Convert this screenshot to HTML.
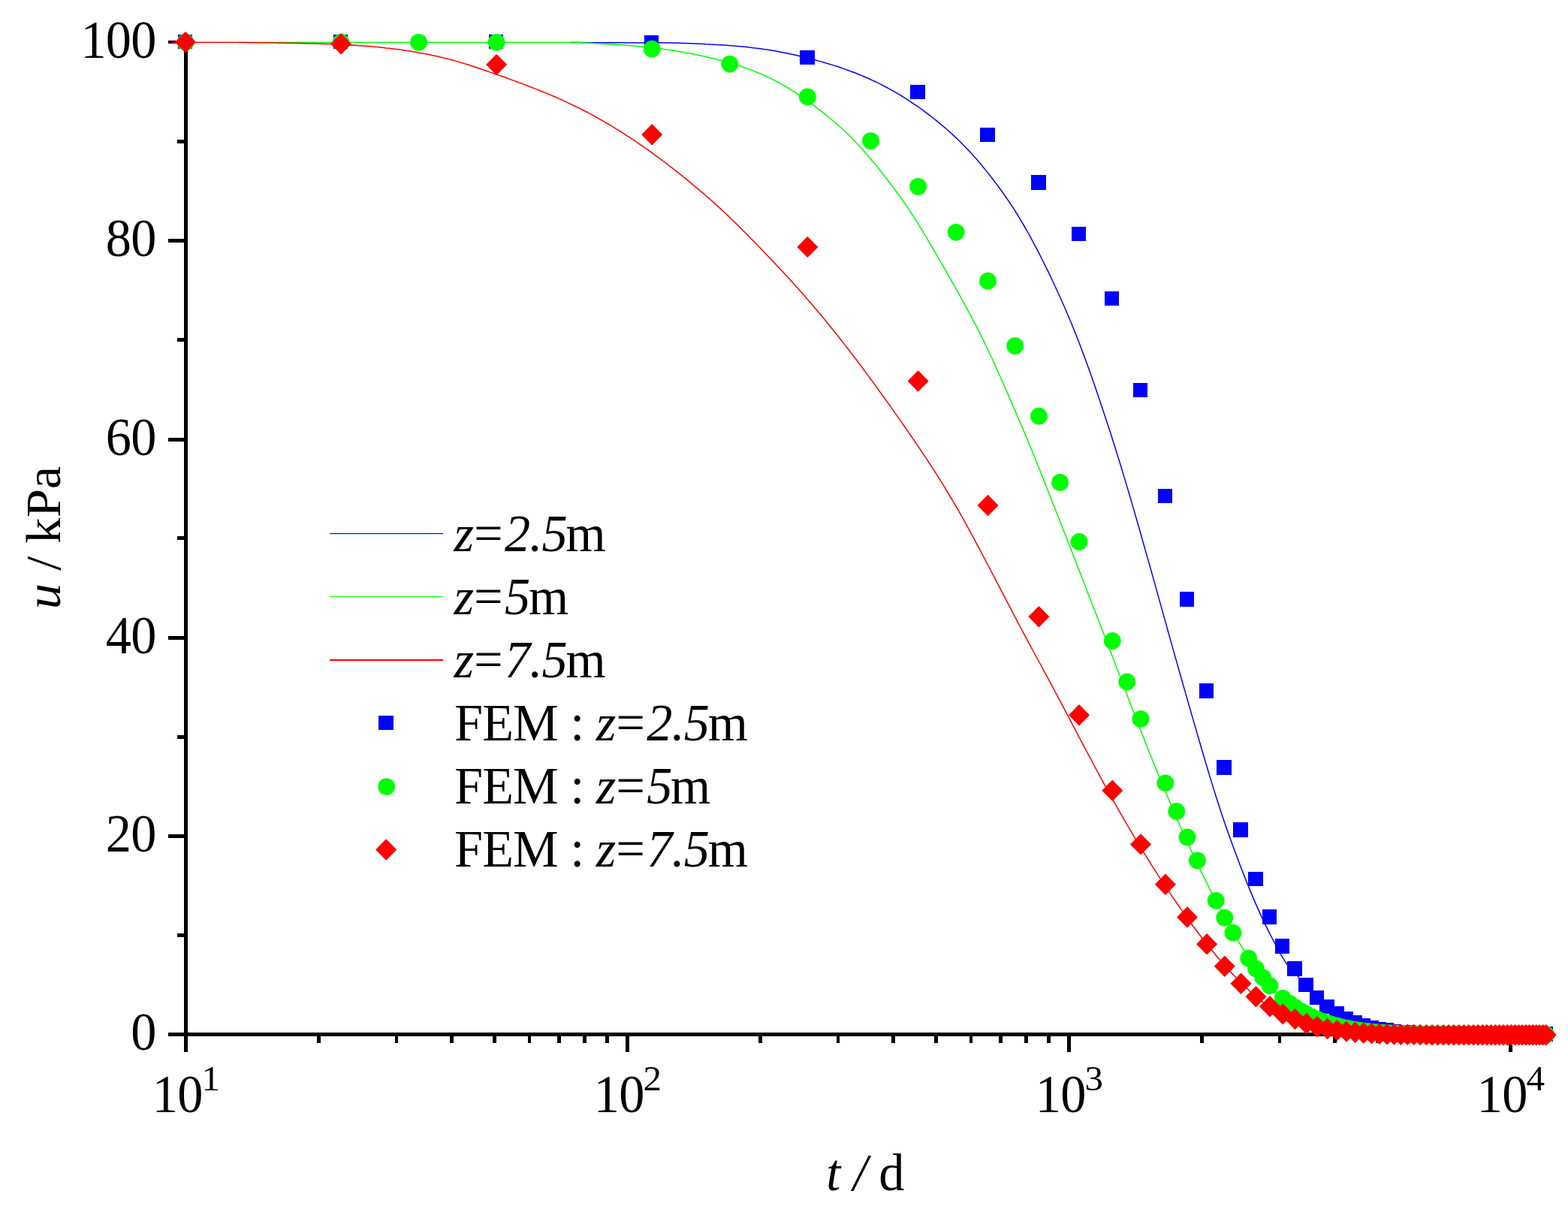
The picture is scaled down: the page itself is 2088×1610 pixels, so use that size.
<!DOCTYPE html>
<html lang="en"><head><meta charset="utf-8"><title>u / kPa versus t / d</title>
<style>
html,body{margin:0;padding:0;background:#fff;}
body{width:2088px;height:1610px;overflow:hidden;}
svg{display:block;}
text{white-space:pre;}
</style></head><body>
<svg width="2088" height="1610" viewBox="0 0 2088 1610" font-family='"Liberation Serif", "Times New Roman", Times, serif' font-size="68.3" letter-spacing="-0.8" fill="#000">
<rect x="0" y="0" width="2088" height="1610" fill="#fff"/>
<g fill="#000" shape-rendering="crispEdges">
<rect x="245" y="54" width="5" height="1347"/>
<rect x="245" y="1375" width="1817" height="5"/>
<rect x="224" y="1375.00" width="22" height="5"/>
<rect x="236" y="1242.88" width="10" height="5"/>
<rect x="224" y="1110.75" width="22" height="5"/>
<rect x="236" y="978.62" width="10" height="5"/>
<rect x="224" y="846.50" width="22" height="5"/>
<rect x="236" y="714.38" width="10" height="5"/>
<rect x="224" y="583.00" width="22" height="5"/>
<rect x="236" y="450.12" width="10" height="5"/>
<rect x="224" y="318.00" width="22" height="5"/>
<rect x="236" y="185.88" width="10" height="5"/>
<rect x="224" y="54" width="22" height="4"/>
<rect x="245.00" y="1379" width="5" height="22"/>
<rect x="422.21" y="1379" width="4.6" height="10"/>
<rect x="525.75" y="1379" width="4.6" height="10"/>
<rect x="599.21" y="1379" width="4.6" height="10"/>
<rect x="656.19" y="1379" width="4.6" height="10"/>
<rect x="702.75" y="1379" width="4.6" height="10"/>
<rect x="742.12" y="1379" width="4.6" height="10"/>
<rect x="776.22" y="1379" width="4.6" height="10"/>
<rect x="806.29" y="1379" width="4.6" height="10"/>
<rect x="833.00" y="1379" width="5" height="22"/>
<rect x="1010.21" y="1379" width="4.6" height="10"/>
<rect x="1113.75" y="1379" width="4.6" height="10"/>
<rect x="1187.21" y="1379" width="4.6" height="10"/>
<rect x="1244.19" y="1379" width="4.6" height="10"/>
<rect x="1290.75" y="1379" width="4.6" height="10"/>
<rect x="1330.12" y="1379" width="4.6" height="10"/>
<rect x="1364.22" y="1379" width="4.6" height="10"/>
<rect x="1394.29" y="1379" width="4.6" height="10"/>
<rect x="1421.00" y="1379" width="5" height="22"/>
<rect x="1598.21" y="1379" width="4.6" height="10"/>
<rect x="1701.75" y="1379" width="4.6" height="10"/>
<rect x="1775.21" y="1379" width="4.6" height="10"/>
<rect x="1832.19" y="1379" width="4.6" height="10"/>
<rect x="1878.75" y="1379" width="4.6" height="10"/>
<rect x="1918.12" y="1379" width="4.6" height="10"/>
<rect x="1952.22" y="1379" width="4.6" height="10"/>
<rect x="1982.29" y="1379" width="4.6" height="10"/>
<rect x="2009.00" y="1379" width="5" height="22"/>
</g>
<text transform="translate(207.50 1398.10) scale(1.0 1.05)" text-anchor="end">0</text>
<text transform="translate(207.50 1133.85) scale(1.0 1.05)" text-anchor="end">20</text>
<text transform="translate(207.50 869.60) scale(1.0 1.05)" text-anchor="end">40</text>
<text transform="translate(207.50 606.05) scale(1.0 1.05)" text-anchor="end">60</text>
<text transform="translate(207.50 341.10) scale(1.0 1.05)" text-anchor="end">80</text>
<text transform="translate(207.50 76.85) scale(1.0 1.05)" text-anchor="end">100</text>
<text transform="translate(202.80 1480.90) scale(1.0 1.04)" text-anchor="start">10</text>
<text transform="translate(268.40 1452.30) scale(1.05 1.0)" text-anchor="start" font-size="46.67">1</text>
<text transform="translate(790.80 1480.90) scale(1.0 1.04)" text-anchor="start">10</text>
<text transform="translate(856.40 1452.30) scale(1.05 1.0)" text-anchor="start" font-size="46.67">2</text>
<text transform="translate(1378.80 1480.90) scale(1.0 1.04)" text-anchor="start">10</text>
<text transform="translate(1444.40 1452.30) scale(1.05 1.0)" text-anchor="start" font-size="46.67">3</text>
<text transform="translate(1966.80 1480.90) scale(1.0 1.04)" text-anchor="start">10</text>
<text transform="translate(2032.40 1452.30) scale(1.05 1.0)" text-anchor="start" font-size="46.67">4</text>
<text transform="translate(1152.00 1585.30) scale(1.0 1.03)" text-anchor="middle"><tspan font-style="italic">t<tspan dx="1.2"> / </tspan></tspan>d</text>
<text transform="translate(80.4 716) rotate(-90) scale(1.005 0.96)" letter-spacing="0" text-anchor="middle"><tspan font-style="italic">u</tspan> / kPa</text>
<path d="M760.0,56.6 L763.0,56.6 L766.0,56.6 L769.0,56.6 L772.0,56.6 L775.0,56.6 L778.0,56.7 L781.0,56.7 L784.0,56.7 L787.0,56.7 L790.0,56.7 L793.0,56.7 L796.0,56.7 L799.0,56.7 L802.0,56.7 L805.0,56.7 L808.0,56.8 L811.0,56.8 L814.0,56.8 L817.0,56.8 L820.0,56.8 L823.0,56.8 L826.0,56.8 L829.0,56.8 L832.0,56.9 L835.0,56.9 L838.0,56.9 L841.0,56.9 L844.0,56.9 L847.0,56.9 L850.0,56.9 L853.0,57.0 L856.0,57.0 L859.0,57.0 L862.0,57.0 L865.0,57.0 L868.0,57.1 L871.0,57.1 L874.0,57.1 L877.0,57.1 L880.0,57.1 L883.0,57.1 L886.0,57.1 L889.0,57.1 L892.0,57.1 L895.0,57.2 L898.0,57.2 L901.0,57.3 L904.0,57.3 L907.0,57.4 L910.0,57.5 L913.0,57.6 L916.0,57.7 L919.0,57.8 L922.0,57.9 L925.0,58.0 L928.0,58.2 L931.0,58.3 L934.0,58.5 L937.0,58.6 L940.0,58.8 L943.0,58.9 L946.0,59.1 L949.0,59.2 L952.0,59.4 L955.0,59.6 L958.0,59.7 L961.0,59.9 L964.0,60.1 L967.0,60.3 L970.0,60.5 L973.0,60.7 L976.0,61.0 L979.0,61.2 L982.0,61.5 L985.0,61.7 L988.0,62.0 L991.0,62.3 L994.0,62.6 L997.0,63.0 L1000.0,63.3 L1003.0,63.7 L1006.0,64.0 L1009.0,64.4 L1012.0,64.8 L1015.0,65.2 L1018.0,65.7 L1021.0,66.1 L1024.0,66.6 L1027.0,67.1 L1030.0,67.6 L1033.0,68.1 L1036.0,68.6 L1039.0,69.2 L1042.0,69.7 L1045.0,70.3 L1048.0,70.9 L1051.0,71.5 L1054.0,72.2 L1057.0,72.8 L1060.0,73.5 L1063.0,74.2 L1066.0,74.9 L1069.0,75.6 L1072.0,76.4 L1075.0,77.1 L1078.0,77.9 L1081.0,78.7 L1084.0,79.5 L1087.0,80.3 L1090.0,81.1 L1093.0,81.9 L1096.0,82.8 L1099.0,83.7 L1102.0,84.6 L1105.0,85.5 L1108.0,86.4 L1111.0,87.4 L1114.0,88.3 L1117.0,89.3 L1120.0,90.3 L1123.0,91.4 L1126.0,92.4 L1129.0,93.5 L1132.0,94.6 L1135.0,95.7 L1138.0,96.8 L1141.0,98.0 L1144.0,99.2 L1147.0,100.4 L1150.0,101.7 L1153.0,103.0 L1156.0,104.3 L1159.0,105.7 L1162.0,107.1 L1165.0,108.5 L1168.0,109.9 L1171.0,111.4 L1174.0,112.9 L1177.0,114.5 L1180.0,116.0 L1183.0,117.6 L1186.0,119.3 L1189.0,120.9 L1192.0,122.7 L1195.0,124.4 L1198.0,126.2 L1201.0,128.0 L1204.0,129.9 L1207.0,131.8 L1210.0,133.8 L1213.0,135.8 L1216.0,137.8 L1219.0,139.8 L1222.0,141.9 L1225.0,144.0 L1228.0,146.2 L1231.0,148.4 L1234.0,150.6 L1237.0,152.9 L1240.0,155.2 L1243.0,157.5 L1246.0,159.9 L1249.0,162.3 L1252.0,164.8 L1255.0,167.3 L1258.0,169.8 L1261.0,172.5 L1264.0,175.1 L1267.0,177.8 L1270.0,180.6 L1273.0,183.4 L1276.0,186.3 L1279.0,189.2 L1282.0,192.2 L1285.0,195.3 L1288.0,198.4 L1291.0,201.6 L1294.0,204.9 L1297.0,208.2 L1300.0,211.6 L1303.0,215.1 L1306.0,218.6 L1309.0,222.2 L1312.0,225.9 L1315.0,229.6 L1318.0,233.4 L1321.0,237.3 L1324.0,241.2 L1327.0,245.1 L1330.0,249.2 L1333.0,253.3 L1336.0,257.5 L1339.0,261.7 L1342.0,266.1 L1345.0,270.5 L1348.0,275.1 L1351.0,279.7 L1354.0,284.5 L1357.0,289.4 L1360.0,294.4 L1363.0,299.5 L1366.0,304.7 L1369.0,310.0 L1372.0,315.4 L1375.0,321.0 L1378.0,326.6 L1381.0,332.3 L1384.0,338.1 L1387.0,344.0 L1390.0,350.0 L1393.0,356.1 L1396.0,362.2 L1399.0,368.5 L1402.0,374.8 L1405.0,381.2 L1408.0,387.7 L1411.0,394.3 L1414.0,401.0 L1417.0,407.8 L1420.0,414.8 L1423.0,421.8 L1426.0,429.0 L1429.0,436.3 L1432.0,443.7 L1435.0,451.3 L1438.0,459.1 L1441.0,467.0 L1444.0,475.0 L1447.0,483.2 L1450.0,491.6 L1453.0,500.1 L1456.0,508.6 L1459.0,517.3 L1462.0,526.1 L1465.0,535.0 L1468.0,544.0 L1471.0,553.0 L1474.0,562.1 L1477.0,571.3 L1480.0,580.6 L1483.0,590.0 L1486.0,599.5 L1489.0,609.1 L1492.0,618.8 L1495.0,628.6 L1498.0,638.6 L1501.0,648.6 L1504.0,658.8 L1507.0,669.1 L1510.0,679.4 L1513.0,689.8 L1516.0,700.3 L1519.0,710.8 L1522.0,721.4 L1525.0,732.0 L1528.0,742.6 L1531.0,753.3 L1534.0,763.9 L1537.0,774.6 L1540.0,785.4 L1543.0,796.1 L1546.0,806.9 L1549.0,817.6 L1552.0,828.4 L1555.0,839.2 L1558.0,849.9 L1561.0,860.6 L1564.0,871.2 L1567.0,881.9 L1570.0,892.5 L1573.0,903.0 L1576.0,913.6 L1579.0,924.1 L1582.0,934.6 L1585.0,945.0 L1588.0,955.4 L1591.0,965.8 L1594.0,976.1 L1597.0,986.5 L1600.0,996.7 L1603.0,1007.0 L1606.0,1017.1 L1609.0,1027.2 L1612.0,1037.1 L1615.0,1046.9 L1618.0,1056.5 L1621.0,1066.0 L1624.0,1075.2 L1627.0,1084.4 L1630.0,1093.3 L1633.0,1102.0 L1636.0,1110.6 L1639.0,1119.0 L1642.0,1127.2 L1645.0,1135.3 L1648.0,1143.3 L1651.0,1151.2 L1654.0,1159.0 L1657.0,1166.6 L1660.0,1174.2 L1663.0,1181.6 L1666.0,1188.9 L1669.0,1196.1 L1672.0,1203.1 L1675.0,1209.9 L1678.0,1216.6 L1681.0,1223.1 L1684.0,1229.4 L1687.0,1235.6 L1690.0,1241.6 L1693.0,1247.5 L1696.0,1253.1 L1699.0,1258.9 L1702.0,1264.5 L1705.0,1270.0 L1708.0,1275.1 L1711.0,1279.9 L1714.0,1284.3 L1717.0,1288.3 L1720.0,1291.7 L1723.0,1294.6 L1726.0,1297.0 L1730.0,1302.4 L1734.0,1307.5 L1738.0,1312.4 L1742.0,1317.0 L1746.0,1321.3 L1750.0,1325.4 L1754.0,1329.2 L1758.0,1332.8 L1762.0,1336.2 L1766.0,1339.4 L1770.0,1342.4 L1774.0,1345.2 L1778.0,1347.8 L1782.0,1350.2 L1786.0,1352.5 L1790.0,1354.6 L1794.0,1356.5 L1798.0,1358.4 L1802.0,1360.1 L1806.0,1361.6 L1810.0,1363.1 L1814.0,1364.4 L1818.0,1365.6 L1822.0,1366.8 L1826.0,1367.8 L1830.0,1368.7 L1834.0,1369.6 L1838.0,1370.4 L1842.0,1371.1 L1846.0,1371.8 L1850.0,1372.4 L1854.0,1372.9 L1858.0,1373.4 L1862.0,1373.9 L1866.0,1374.3 L1870.0,1374.7 L1874.0,1375.0 L1878.0,1375.3 L1882.0,1375.5 L1886.0,1375.8 L1890.0,1376.0 L1894.0,1376.2 L1898.0,1376.3 L1902.0,1376.5 L1906.0,1376.6 L1910.0,1376.7 L1914.0,1376.8 L1918.0,1376.9 L1922.0,1377.0 L1926.0,1377.1 L1930.0,1377.1 L1934.0,1377.2 L1938.0,1377.2 L1942.0,1377.3 L1946.0,1377.3 L1950.0,1377.3 L1954.0,1377.4 L1958.0,1377.4 L1962.0,1377.4 L1966.0,1377.4 L1970.0,1377.4 L1974.0,1377.4 L1978.0,1377.5 L1982.0,1377.5 L1986.0,1377.5 L1990.0,1377.5 L1994.0,1377.5 L1998.0,1377.5 L2002.0,1377.5 L2006.0,1377.5 L2010.0,1377.5 L2014.0,1377.5 L2018.0,1377.5 L2022.0,1377.5 L2026.0,1377.5 L2030.0,1377.5 L2034.0,1377.5 L2038.0,1377.5 L2042.0,1377.5 L2046.0,1377.5 L2050.0,1377.5 L2054.0,1377.5 L2058.0,1377.5 L2059.3,1377.5" fill="none" stroke="#0000ff" stroke-width="1.5" stroke-linejoin="round"/>
<path d="M318.0,56.4 L321.0,56.4 L324.0,56.4 L327.0,56.4 L330.0,56.4 L333.0,56.4 L336.0,56.4 L339.0,56.4 L342.0,56.4 L345.0,56.4 L348.0,56.4 L351.0,56.4 L354.0,56.4 L357.0,56.4 L360.0,56.4 L363.0,56.4 L366.0,56.4 L369.0,56.4 L372.0,56.4 L375.0,56.4 L378.0,56.4 L381.0,56.4 L384.0,56.4 L387.0,56.4 L390.0,56.4 L393.0,56.4 L396.0,56.4 L399.0,56.4 L402.0,56.4 L405.0,56.4 L408.0,56.4 L411.0,56.4 L414.0,56.4 L417.0,56.4 L420.0,56.4 L423.0,56.4 L426.0,56.4 L429.0,56.4 L432.0,56.4 L435.0,56.4 L438.0,56.4 L441.0,56.4 L444.0,56.4 L447.0,56.4 L450.0,56.4 L453.0,56.4 L456.0,56.4 L459.0,56.4 L462.0,56.4 L465.0,56.4 L468.0,56.4 L471.0,56.4 L474.0,56.4 L477.0,56.4 L480.0,56.4 L483.0,56.4 L486.0,56.4 L489.0,56.4 L492.0,56.4 L495.0,56.4 L498.0,56.4 L501.0,56.4 L504.0,56.4 L507.0,56.4 L510.0,56.4 L513.0,56.4 L516.0,56.4 L519.0,56.4 L522.0,56.4 L525.0,56.4 L528.0,56.4 L531.0,56.4 L534.0,56.4 L537.0,56.4 L540.0,56.4 L543.0,56.4 L546.0,56.4 L549.0,56.4 L552.0,56.4 L555.0,56.4 L558.0,56.4 L561.0,56.4 L564.0,56.4 L567.0,56.4 L570.0,56.4 L573.0,56.4 L576.0,56.4 L579.0,56.4 L582.0,56.4 L585.0,56.4 L588.0,56.4 L591.0,56.4 L594.0,56.4 L597.0,56.4 L600.0,56.4 L603.0,56.4 L606.0,56.4 L609.0,56.4 L612.0,56.4 L615.0,56.4 L618.0,56.4 L621.0,56.4 L624.0,56.4 L627.0,56.4 L630.0,56.4 L633.0,56.4 L636.0,56.4 L639.0,56.4 L642.0,56.4 L645.0,56.4 L648.0,56.4 L651.0,56.4 L654.0,56.4 L657.0,56.4 L660.0,56.4 L663.0,56.4 L666.0,56.4 L669.0,56.4 L672.0,56.4 L675.0,56.4 L678.0,56.4 L681.0,56.4 L684.0,56.4 L687.0,56.4 L690.0,56.4 L693.0,56.4 L696.0,56.4 L699.0,56.4 L702.0,56.4 L705.0,56.4 L708.0,56.4 L711.0,56.4 L714.0,56.4 L717.0,56.4 L720.0,56.4 L723.0,56.4 L726.0,56.4 L729.0,56.4 L732.0,56.4 L735.0,56.4 L738.0,56.4 L741.0,56.4 L744.0,56.4 L747.0,56.4 L750.0,56.4 L753.0,56.4 L756.0,56.4 L759.0,56.4 L762.0,56.5 L765.0,56.5 L768.0,56.6 L771.0,56.7 L774.0,56.8 L777.0,56.9 L780.0,57.0 L783.0,57.2 L786.0,57.3 L789.0,57.5 L792.0,57.7 L795.0,57.9 L798.0,58.0 L801.0,58.2 L804.0,58.4 L807.0,58.6 L810.0,58.7 L813.0,58.9 L816.0,59.1 L819.0,59.3 L822.0,59.5 L825.0,59.7 L828.0,59.9 L831.0,60.1 L834.0,60.4 L837.0,60.6 L840.0,60.9 L843.0,61.1 L846.0,61.4 L849.0,61.6 L852.0,61.9 L855.0,62.2 L858.0,62.5 L861.0,62.8 L864.0,63.1 L867.0,63.4 L870.0,63.8 L873.0,64.1 L876.0,64.5 L879.0,64.8 L882.0,65.2 L885.0,65.6 L888.0,66.0 L891.0,66.5 L894.0,66.9 L897.0,67.4 L900.0,67.8 L903.0,68.3 L906.0,68.8 L909.0,69.3 L912.0,69.9 L915.0,70.4 L918.0,71.0 L921.0,71.5 L924.0,72.1 L927.0,72.7 L930.0,73.4 L933.0,74.0 L936.0,74.7 L939.0,75.3 L942.0,76.0 L945.0,76.7 L948.0,77.5 L951.0,78.2 L954.0,78.9 L957.0,79.7 L960.0,80.5 L963.0,81.3 L966.0,82.1 L969.0,82.9 L972.0,83.8 L975.0,84.6 L978.0,85.5 L981.0,86.5 L984.0,87.4 L987.0,88.4 L990.0,89.5 L993.0,90.5 L996.0,91.6 L999.0,92.7 L1002.0,93.9 L1005.0,95.1 L1008.0,96.3 L1011.0,97.5 L1014.0,98.8 L1017.0,100.2 L1020.0,101.5 L1023.0,102.9 L1026.0,104.4 L1029.0,105.9 L1032.0,107.4 L1035.0,109.0 L1038.0,110.6 L1041.0,112.3 L1044.0,114.0 L1047.0,115.7 L1050.0,117.5 L1053.0,119.3 L1056.0,121.2 L1059.0,123.1 L1062.0,125.1 L1065.0,127.1 L1068.0,129.1 L1071.0,131.2 L1074.0,133.3 L1077.0,135.5 L1080.0,137.7 L1083.0,139.9 L1086.0,142.2 L1089.0,144.5 L1092.0,146.8 L1095.0,149.2 L1098.0,151.6 L1101.0,154.0 L1104.0,156.5 L1107.0,159.0 L1110.0,161.5 L1113.0,164.1 L1116.0,166.7 L1119.0,169.3 L1122.0,172.0 L1125.0,174.8 L1128.0,177.6 L1131.0,180.5 L1134.0,183.5 L1137.0,186.5 L1140.0,189.7 L1143.0,192.9 L1146.0,196.1 L1149.0,199.5 L1152.0,202.9 L1155.0,206.4 L1158.0,209.9 L1161.0,213.5 L1164.0,217.1 L1167.0,220.8 L1170.0,224.5 L1173.0,228.3 L1176.0,232.1 L1179.0,235.9 L1182.0,239.8 L1185.0,243.7 L1188.0,247.6 L1191.0,251.6 L1194.0,255.7 L1197.0,259.8 L1200.0,263.9 L1203.0,268.2 L1206.0,272.5 L1209.0,276.9 L1212.0,281.4 L1215.0,286.0 L1218.0,290.7 L1221.0,295.4 L1224.0,300.3 L1227.0,305.2 L1230.0,310.2 L1233.0,315.2 L1236.0,320.3 L1239.0,325.4 L1242.0,330.5 L1245.0,335.7 L1248.0,340.8 L1251.0,346.0 L1254.0,351.2 L1257.0,356.4 L1260.0,361.7 L1263.0,366.9 L1266.0,372.2 L1269.0,377.4 L1272.0,382.7 L1275.0,388.0 L1278.0,393.4 L1281.0,398.8 L1284.0,404.3 L1287.0,409.8 L1290.0,415.3 L1293.0,420.9 L1296.0,426.6 L1299.0,432.3 L1302.0,438.2 L1305.0,444.1 L1308.0,450.1 L1311.0,456.3 L1314.0,462.5 L1317.0,468.8 L1320.0,475.2 L1323.0,481.7 L1326.0,488.3 L1329.0,495.0 L1332.0,501.7 L1335.0,508.5 L1338.0,515.3 L1341.0,522.2 L1344.0,529.1 L1347.0,536.0 L1350.0,542.9 L1353.0,549.9 L1356.0,556.9 L1359.0,563.9 L1362.0,571.0 L1365.0,578.1 L1368.0,585.3 L1371.0,592.5 L1374.0,599.8 L1377.0,607.1 L1380.0,614.5 L1383.0,622.0 L1386.0,629.5 L1389.0,637.1 L1392.0,644.7 L1395.0,652.3 L1398.0,659.9 L1401.0,667.5 L1404.0,675.1 L1407.0,682.7 L1410.0,690.3 L1413.0,698.0 L1416.0,705.6 L1419.0,713.2 L1422.0,720.9 L1425.0,728.6 L1428.0,736.3 L1431.0,743.9 L1434.0,751.7 L1437.0,759.4 L1440.0,767.1 L1443.0,774.9 L1446.0,782.7 L1449.0,790.4 L1452.0,798.2 L1455.0,805.9 L1458.0,813.6 L1461.0,821.4 L1464.0,829.1 L1467.0,836.9 L1470.0,844.6 L1473.0,852.4 L1476.0,860.2 L1479.0,868.1 L1482.0,875.9 L1485.0,883.8 L1488.0,891.7 L1491.0,899.6 L1494.0,907.5 L1497.0,915.4 L1500.0,923.3 L1503.0,931.2 L1506.0,939.0 L1509.0,946.8 L1512.0,954.6 L1515.0,962.4 L1518.0,970.1 L1521.0,977.8 L1524.0,985.4 L1527.0,993.0 L1530.0,1000.5 L1533.0,1008.0 L1536.0,1015.5 L1539.0,1022.9 L1542.0,1030.2 L1545.0,1037.5 L1548.0,1044.8 L1551.0,1052.0 L1554.0,1059.2 L1557.0,1066.3 L1560.0,1073.3 L1563.0,1080.3 L1566.0,1087.3 L1569.0,1094.2 L1572.0,1101.0 L1575.0,1107.7 L1578.0,1114.4 L1581.0,1121.0 L1584.0,1127.6 L1587.0,1134.0 L1590.0,1140.5 L1593.0,1146.8 L1596.0,1153.1 L1599.0,1159.4 L1602.0,1165.6 L1605.0,1171.7 L1608.0,1177.8 L1611.0,1183.8 L1614.0,1189.8 L1617.0,1195.7 L1620.0,1201.5 L1623.0,1207.3 L1626.0,1213.0 L1629.0,1218.6 L1632.0,1224.1 L1635.0,1229.5 L1638.0,1234.9 L1641.0,1240.1 L1644.0,1245.2 L1647.0,1250.2 L1650.0,1255.2 L1653.0,1260.0 L1656.0,1264.7 L1659.0,1269.3 L1662.0,1273.8 L1665.0,1278.2 L1668.0,1282.5 L1671.0,1286.7 L1674.0,1290.8 L1677.0,1294.7 L1680.0,1298.8 L1683.0,1302.8 L1686.0,1306.7 L1689.0,1310.4 L1692.0,1313.9 L1695.0,1317.0 L1698.0,1319.8 L1701.0,1322.3 L1704.0,1324.4 L1707.0,1326.2 L1711.0,1329.7 L1715.0,1333.1 L1719.0,1336.3 L1723.0,1339.3 L1727.0,1342.1 L1731.0,1344.7 L1735.0,1347.2 L1739.0,1349.5 L1743.0,1351.7 L1747.0,1353.8 L1751.0,1355.7 L1755.0,1357.5 L1759.0,1359.1 L1763.0,1360.7 L1767.0,1362.1 L1771.0,1363.5 L1775.0,1364.7 L1779.0,1365.8 L1783.0,1366.9 L1787.0,1367.9 L1791.0,1368.8 L1795.0,1369.6 L1799.0,1370.4 L1803.0,1371.1 L1807.0,1371.7 L1811.0,1372.3 L1815.0,1372.8 L1819.0,1373.3 L1823.0,1373.8 L1827.0,1374.2 L1831.0,1374.5 L1835.0,1374.8 L1839.0,1375.1 L1843.0,1375.4 L1847.0,1375.7 L1851.0,1375.9 L1855.0,1376.1 L1859.0,1376.2 L1863.0,1376.4 L1867.0,1376.5 L1871.0,1376.6 L1875.0,1376.8 L1879.0,1376.9 L1883.0,1376.9 L1887.0,1377.0 L1891.0,1377.1 L1895.0,1377.1 L1899.0,1377.2 L1903.0,1377.2 L1907.0,1377.3 L1911.0,1377.3 L1915.0,1377.3 L1919.0,1377.4 L1923.0,1377.4 L1927.0,1377.4 L1931.0,1377.4 L1935.0,1377.4 L1939.0,1377.4 L1943.0,1377.4 L1947.0,1377.5 L1951.0,1377.5 L1955.0,1377.5 L1959.0,1377.5 L1963.0,1377.5 L1967.0,1377.5 L1971.0,1377.5 L1975.0,1377.5 L1979.0,1377.5 L1983.0,1377.5 L1987.0,1377.5 L1991.0,1377.5 L1995.0,1377.5 L1999.0,1377.5 L2003.0,1377.5 L2007.0,1377.5 L2011.0,1377.5 L2015.0,1377.5 L2019.0,1377.5 L2023.0,1377.5 L2027.0,1377.5 L2031.0,1377.5 L2035.0,1377.5 L2039.0,1377.5 L2043.0,1377.5 L2047.0,1377.5 L2051.0,1377.5 L2055.0,1377.5 L2059.0,1377.5 L2059.3,1377.5" fill="none" stroke="#00ff00" stroke-width="1.5" stroke-linejoin="round"/>
<path d="M229.0,56.5 L232.0,56.5 L235.0,56.5 L238.0,56.5 L241.0,56.5 L244.0,56.5 L247.0,56.5 L250.0,56.5 L253.0,56.5 L256.0,56.5 L259.0,56.5 L262.0,56.5 L265.0,56.5 L268.0,56.5 L271.0,56.5 L274.0,56.5 L277.0,56.5 L280.0,56.5 L283.0,56.5 L286.0,56.5 L289.0,56.5 L292.0,56.5 L295.0,56.5 L298.0,56.5 L301.0,56.5 L304.0,56.5 L307.0,56.5 L310.0,56.5 L313.0,56.5 L316.0,56.5 L319.0,56.5 L322.0,56.6 L325.0,56.6 L328.0,56.6 L331.0,56.7 L334.0,56.7 L337.0,56.7 L340.0,56.8 L343.0,56.8 L346.0,56.8 L349.0,56.9 L352.0,56.9 L355.0,56.9 L358.0,57.0 L361.0,57.0 L364.0,57.1 L367.0,57.1 L370.0,57.2 L373.0,57.2 L376.0,57.3 L379.0,57.3 L382.0,57.4 L385.0,57.4 L388.0,57.5 L391.0,57.5 L394.0,57.6 L397.0,57.6 L400.0,57.7 L403.0,57.8 L406.0,57.8 L409.0,57.9 L412.0,58.0 L415.0,58.0 L418.0,58.1 L421.0,58.2 L424.0,58.2 L427.0,58.3 L430.0,58.4 L433.0,58.5 L436.0,58.5 L439.0,58.6 L442.0,58.7 L445.0,58.8 L448.0,59.0 L451.0,59.1 L454.0,59.2 L457.0,59.4 L460.0,59.5 L463.0,59.7 L466.0,59.9 L469.0,60.1 L472.0,60.3 L475.0,60.5 L478.0,60.7 L481.0,60.9 L484.0,61.1 L487.0,61.4 L490.0,61.6 L493.0,61.8 L496.0,62.1 L499.0,62.4 L502.0,62.6 L505.0,62.9 L508.0,63.2 L511.0,63.5 L514.0,63.9 L517.0,64.2 L520.0,64.6 L523.0,64.9 L526.0,65.3 L529.0,65.7 L532.0,66.1 L535.0,66.5 L538.0,66.9 L541.0,67.4 L544.0,67.8 L547.0,68.3 L550.0,68.8 L553.0,69.3 L556.0,69.8 L559.0,70.4 L562.0,70.9 L565.0,71.5 L568.0,72.0 L571.0,72.6 L574.0,73.2 L577.0,73.9 L580.0,74.5 L583.0,75.2 L586.0,75.9 L589.0,76.6 L592.0,77.4 L595.0,78.1 L598.0,78.9 L601.0,79.7 L604.0,80.5 L607.0,81.4 L610.0,82.2 L613.0,83.1 L616.0,84.0 L619.0,84.9 L622.0,85.8 L625.0,86.8 L628.0,87.7 L631.0,88.7 L634.0,89.7 L637.0,90.7 L640.0,91.7 L643.0,92.7 L646.0,93.8 L649.0,94.8 L652.0,95.9 L655.0,96.9 L658.0,98.0 L661.0,99.1 L664.0,100.1 L667.0,101.2 L670.0,102.3 L673.0,103.3 L676.0,104.4 L679.0,105.5 L682.0,106.6 L685.0,107.6 L688.0,108.8 L691.0,109.9 L694.0,111.0 L697.0,112.1 L700.0,113.2 L703.0,114.4 L706.0,115.5 L709.0,116.7 L712.0,117.9 L715.0,119.1 L718.0,120.3 L721.0,121.5 L724.0,122.7 L727.0,123.9 L730.0,125.2 L733.0,126.4 L736.0,127.7 L739.0,129.0 L742.0,130.3 L745.0,131.6 L748.0,133.0 L751.0,134.4 L754.0,135.7 L757.0,137.2 L760.0,138.6 L763.0,140.0 L766.0,141.5 L769.0,143.0 L772.0,144.4 L775.0,146.0 L778.0,147.5 L781.0,149.0 L784.0,150.6 L787.0,152.2 L790.0,153.8 L793.0,155.5 L796.0,157.1 L799.0,158.8 L802.0,160.5 L805.0,162.3 L808.0,164.0 L811.0,165.8 L814.0,167.6 L817.0,169.4 L820.0,171.3 L823.0,173.1 L826.0,175.0 L829.0,176.9 L832.0,178.8 L835.0,180.8 L838.0,182.7 L841.0,184.7 L844.0,186.7 L847.0,188.7 L850.0,190.8 L853.0,192.8 L856.0,194.9 L859.0,197.0 L862.0,199.1 L865.0,201.2 L868.0,203.4 L871.0,205.6 L874.0,207.8 L877.0,210.0 L880.0,212.2 L883.0,214.5 L886.0,216.7 L889.0,219.0 L892.0,221.3 L895.0,223.7 L898.0,226.0 L901.0,228.4 L904.0,230.7 L907.0,233.1 L910.0,235.5 L913.0,237.9 L916.0,240.4 L919.0,242.8 L922.0,245.3 L925.0,247.8 L928.0,250.3 L931.0,252.8 L934.0,255.3 L937.0,257.9 L940.0,260.5 L943.0,263.1 L946.0,265.8 L949.0,268.4 L952.0,271.1 L955.0,273.9 L958.0,276.6 L961.0,279.4 L964.0,282.2 L967.0,285.0 L970.0,287.9 L973.0,290.8 L976.0,293.7 L979.0,296.6 L982.0,299.5 L985.0,302.5 L988.0,305.5 L991.0,308.5 L994.0,311.5 L997.0,314.6 L1000.0,317.6 L1003.0,320.7 L1006.0,323.8 L1009.0,326.8 L1012.0,330.0 L1015.0,333.1 L1018.0,336.2 L1021.0,339.3 L1024.0,342.5 L1027.0,345.6 L1030.0,348.8 L1033.0,352.0 L1036.0,355.2 L1039.0,358.4 L1042.0,361.6 L1045.0,364.8 L1048.0,368.1 L1051.0,371.3 L1054.0,374.6 L1057.0,377.9 L1060.0,381.2 L1063.0,384.6 L1066.0,388.0 L1069.0,391.3 L1072.0,394.8 L1075.0,398.2 L1078.0,401.7 L1081.0,405.1 L1084.0,408.7 L1087.0,412.2 L1090.0,415.8 L1093.0,419.3 L1096.0,423.0 L1099.0,426.6 L1102.0,430.3 L1105.0,434.0 L1108.0,437.7 L1111.0,441.4 L1114.0,445.2 L1117.0,449.0 L1120.0,452.8 L1123.0,456.6 L1126.0,460.4 L1129.0,464.3 L1132.0,468.2 L1135.0,472.1 L1138.0,476.0 L1141.0,480.0 L1144.0,484.0 L1147.0,488.0 L1150.0,492.0 L1153.0,496.1 L1156.0,500.1 L1159.0,504.2 L1162.0,508.3 L1165.0,512.4 L1168.0,516.6 L1171.0,520.7 L1174.0,524.9 L1177.0,529.0 L1180.0,533.2 L1183.0,537.4 L1186.0,541.6 L1189.0,545.9 L1192.0,550.1 L1195.0,554.4 L1198.0,558.6 L1201.0,562.9 L1204.0,567.2 L1207.0,571.5 L1210.0,575.9 L1213.0,580.2 L1216.0,584.6 L1219.0,589.0 L1222.0,593.4 L1225.0,597.9 L1228.0,602.4 L1231.0,606.9 L1234.0,611.4 L1237.0,616.0 L1240.0,620.6 L1243.0,625.2 L1246.0,629.9 L1249.0,634.6 L1252.0,639.4 L1255.0,644.2 L1258.0,649.1 L1261.0,654.0 L1264.0,659.0 L1267.0,664.0 L1270.0,669.1 L1273.0,674.2 L1276.0,679.4 L1279.0,684.7 L1282.0,690.0 L1285.0,695.4 L1288.0,700.8 L1291.0,706.3 L1294.0,711.9 L1297.0,717.4 L1300.0,723.1 L1303.0,728.7 L1306.0,734.4 L1309.0,740.0 L1312.0,745.7 L1315.0,751.5 L1318.0,757.2 L1321.0,763.0 L1324.0,768.7 L1327.0,774.4 L1330.0,780.2 L1333.0,785.9 L1336.0,791.6 L1339.0,797.4 L1342.0,803.1 L1345.0,808.9 L1348.0,814.6 L1351.0,820.4 L1354.0,826.1 L1357.0,831.8 L1360.0,837.5 L1363.0,843.1 L1366.0,848.7 L1369.0,854.4 L1372.0,859.9 L1375.0,865.5 L1378.0,871.0 L1381.0,876.5 L1384.0,882.0 L1387.0,887.5 L1390.0,893.1 L1393.0,898.6 L1396.0,904.1 L1399.0,909.7 L1402.0,915.3 L1405.0,921.0 L1408.0,926.6 L1411.0,932.3 L1414.0,937.9 L1417.0,943.6 L1420.0,949.3 L1423.0,955.0 L1426.0,960.7 L1429.0,966.4 L1432.0,972.1 L1435.0,977.8 L1438.0,983.5 L1441.0,989.2 L1444.0,994.9 L1447.0,1000.5 L1450.0,1006.2 L1453.0,1011.9 L1456.0,1017.5 L1459.0,1023.1 L1462.0,1028.7 L1465.0,1034.2 L1468.0,1039.8 L1471.0,1045.3 L1474.0,1050.8 L1477.0,1056.2 L1480.0,1061.6 L1483.0,1067.0 L1486.0,1072.3 L1489.0,1077.6 L1492.0,1082.9 L1495.0,1088.1 L1498.0,1093.3 L1501.0,1098.5 L1504.0,1103.6 L1507.0,1108.7 L1510.0,1113.8 L1513.0,1118.8 L1516.0,1123.8 L1519.0,1128.7 L1522.0,1133.6 L1525.0,1138.4 L1528.0,1143.2 L1531.0,1148.0 L1534.0,1152.8 L1537.0,1157.5 L1540.0,1162.1 L1543.0,1166.7 L1546.0,1171.3 L1549.0,1175.9 L1552.0,1180.4 L1555.0,1184.9 L1558.0,1189.3 L1561.0,1193.8 L1564.0,1198.2 L1567.0,1202.5 L1570.0,1206.8 L1573.0,1211.1 L1576.0,1215.4 L1579.0,1219.6 L1582.0,1223.9 L1585.0,1228.0 L1588.0,1232.2 L1591.0,1236.3 L1594.0,1240.3 L1597.0,1244.3 L1600.0,1248.3 L1603.0,1252.2 L1606.0,1256.0 L1609.0,1259.8 L1612.0,1263.6 L1615.0,1267.2 L1618.0,1270.8 L1621.0,1274.4 L1624.0,1277.9 L1627.0,1281.3 L1630.0,1284.7 L1633.0,1288.0 L1636.0,1291.3 L1639.0,1294.5 L1642.0,1297.7 L1645.0,1300.8 L1648.0,1303.9 L1651.0,1306.9 L1654.0,1309.9 L1657.0,1312.8 L1660.0,1315.7 L1663.0,1318.6 L1666.0,1321.5 L1669.0,1324.4 L1672.0,1327.1 L1675.0,1329.7 L1678.0,1332.1 L1681.0,1334.2 L1684.0,1336.1 L1687.0,1337.7 L1690.0,1339.1 L1694.0,1341.6 L1698.0,1343.9 L1702.0,1346.2 L1706.0,1348.3 L1710.0,1350.3 L1714.0,1352.2 L1718.0,1354.0 L1722.0,1355.7 L1726.0,1357.3 L1730.0,1358.8 L1734.0,1360.2 L1738.0,1361.6 L1742.0,1362.8 L1746.0,1364.0 L1750.0,1365.1 L1754.0,1366.1 L1758.0,1367.0 L1762.0,1367.9 L1766.0,1368.7 L1770.0,1369.5 L1774.0,1370.2 L1778.0,1370.8 L1782.0,1371.4 L1786.0,1372.0 L1790.0,1372.5 L1794.0,1373.0 L1798.0,1373.4 L1802.0,1373.8 L1806.0,1374.2 L1810.0,1374.5 L1814.0,1374.8 L1818.0,1375.1 L1822.0,1375.3 L1826.0,1375.6 L1830.0,1375.8 L1834.0,1376.0 L1838.0,1376.1 L1842.0,1376.3 L1846.0,1376.4 L1850.0,1376.6 L1854.0,1376.7 L1858.0,1376.8 L1862.0,1376.9 L1866.0,1376.9 L1870.0,1377.0 L1874.0,1377.1 L1878.0,1377.1 L1882.0,1377.2 L1886.0,1377.2 L1890.0,1377.3 L1894.0,1377.3 L1898.0,1377.3 L1902.0,1377.3 L1906.0,1377.4 L1910.0,1377.4 L1914.0,1377.4 L1918.0,1377.4 L1922.0,1377.4 L1926.0,1377.4 L1930.0,1377.4 L1934.0,1377.5 L1938.0,1377.5 L1942.0,1377.5 L1946.0,1377.5 L1950.0,1377.5 L1954.0,1377.5 L1958.0,1377.5 L1962.0,1377.5 L1966.0,1377.5 L1970.0,1377.5 L1974.0,1377.5 L1978.0,1377.5 L1982.0,1377.5 L1986.0,1377.5 L1990.0,1377.5 L1994.0,1377.5 L1998.0,1377.5 L2002.0,1377.5 L2006.0,1377.5 L2010.0,1377.5 L2014.0,1377.5 L2018.0,1377.5 L2022.0,1377.5 L2026.0,1377.5 L2030.0,1377.5 L2034.0,1377.5 L2038.0,1377.5 L2042.0,1377.5 L2046.0,1377.5 L2050.0,1377.5 L2054.0,1377.5 L2058.0,1377.5 L2059.3,1377.5" fill="none" stroke="#ff0000" stroke-width="1.5" stroke-linejoin="round"/>
<g fill="#0000ff" shape-rendering="crispEdges">
<rect x="236.7" y="45.8" width="19.5" height="19.4"/>
<rect x="443.7" y="45.8" width="19.5" height="19.4"/>
<rect x="650.8" y="45.9" width="19.5" height="19.4"/>
<rect x="857.9" y="47.3" width="19.5" height="19.4"/>
<rect x="1065.0" y="66.7" width="19.5" height="19.4"/>
<rect x="1212.3" y="112.6" width="19.5" height="19.4"/>
<rect x="1305.1" y="169.6" width="19.5" height="19.4"/>
<rect x="1373.0" y="233.2" width="19.5" height="19.4"/>
<rect x="1426.6" y="301.6" width="19.5" height="19.4"/>
<rect x="1470.9" y="387.6" width="19.5" height="19.4"/>
<rect x="1508.6" y="509.7" width="19.5" height="19.4"/>
<rect x="1541.5" y="650.6" width="19.5" height="19.4"/>
<rect x="1570.6" y="788.3" width="19.5" height="19.4"/>
<rect x="1596.7" y="910.2" width="19.5" height="19.4"/>
<rect x="1620.4" y="1012.1" width="19.5" height="19.4"/>
<rect x="1642.1" y="1095.1" width="19.5" height="19.4"/>
<rect x="1662.1" y="1160.7" width="19.5" height="19.4"/>
<rect x="1680.7" y="1211.1" width="19.5" height="19.4"/>
<rect x="1697.9" y="1250.3" width="19.5" height="19.4"/>
<rect x="1714.1" y="1280.3" width="19.5" height="19.4"/>
<rect x="1729.4" y="1301.8" width="19.5" height="19.4"/>
<rect x="1743.7" y="1318.6" width="19.5" height="19.4"/>
<rect x="1757.3" y="1330.6" width="19.5" height="19.4"/>
<rect x="1770.2" y="1339.9" width="19.5" height="19.4"/>
<rect x="1782.5" y="1346.7" width="19.5" height="19.4"/>
<rect x="1794.2" y="1351.9" width="19.5" height="19.4"/>
<rect x="1805.5" y="1355.7" width="19.5" height="19.4"/>
<rect x="1816.2" y="1358.6" width="19.5" height="19.4"/>
<rect x="1826.5" y="1360.8" width="19.5" height="19.4"/>
<rect x="1836.4" y="1362.4" width="19.5" height="19.4"/>
<rect x="1845.9" y="1363.6" width="19.5" height="19.4"/>
<rect x="1855.1" y="1364.6" width="19.5" height="19.4"/>
<rect x="1864.0" y="1365.2" width="19.5" height="19.4"/>
<rect x="1872.6" y="1365.8" width="19.5" height="19.4"/>
<rect x="1880.9" y="1366.1" width="19.5" height="19.4"/>
<rect x="1888.9" y="1366.4" width="19.5" height="19.4"/>
<rect x="1896.7" y="1366.6" width="19.5" height="19.4"/>
<rect x="1904.3" y="1366.8" width="19.5" height="19.4"/>
<rect x="1911.6" y="1366.9" width="19.5" height="19.4"/>
<rect x="1918.8" y="1367.0" width="19.5" height="19.4"/>
<rect x="1925.7" y="1367.1" width="19.5" height="19.4"/>
<rect x="1932.5" y="1367.1" width="19.5" height="19.4"/>
<rect x="1939.0" y="1367.2" width="19.5" height="19.4"/>
<rect x="1945.5" y="1367.2" width="19.5" height="19.4"/>
<rect x="1951.7" y="1367.2" width="19.5" height="19.4"/>
<rect x="1957.8" y="1367.3" width="19.5" height="19.4"/>
<rect x="1963.8" y="1367.3" width="19.5" height="19.4"/>
<rect x="1969.6" y="1367.3" width="19.5" height="19.4"/>
<rect x="1975.3" y="1367.3" width="19.5" height="19.4"/>
<rect x="1980.9" y="1367.3" width="19.5" height="19.4"/>
<rect x="1986.4" y="1367.3" width="19.5" height="19.4"/>
<rect x="1991.7" y="1367.3" width="19.5" height="19.4"/>
<rect x="1997.0" y="1367.3" width="19.5" height="19.4"/>
<rect x="2002.1" y="1367.3" width="19.5" height="19.4"/>
<rect x="2007.1" y="1367.3" width="19.5" height="19.4"/>
<rect x="2012.0" y="1367.3" width="19.5" height="19.4"/>
<rect x="2016.9" y="1367.3" width="19.5" height="19.4"/>
<rect x="2021.6" y="1367.3" width="19.5" height="19.4"/>
<rect x="2026.3" y="1367.3" width="19.5" height="19.4"/>
<rect x="2030.9" y="1367.3" width="19.5" height="19.4"/>
<rect x="2035.4" y="1367.3" width="19.5" height="19.4"/>
<rect x="2039.8" y="1367.3" width="19.5" height="19.4"/>
<rect x="2044.1" y="1367.3" width="19.5" height="19.4"/>
<rect x="2048.4" y="1367.3" width="19.5" height="19.4"/>
</g>
<g fill="#00ff00">
<circle cx="247.0" cy="56.2" r="11.4"/>
<circle cx="454.1" cy="56.2" r="11.4"/>
<circle cx="557.6" cy="56.3" r="11.4"/>
<circle cx="661.2" cy="56.3" r="11.4"/>
<circle cx="868.2" cy="65.2" r="11.4"/>
<circle cx="971.8" cy="85.3" r="11.4"/>
<circle cx="1075.3" cy="128.9" r="11.4"/>
<circle cx="1159.5" cy="187.6" r="11.4"/>
<circle cx="1222.6" cy="248.4" r="11.4"/>
<circle cx="1273.2" cy="309.3" r="11.4"/>
<circle cx="1315.5" cy="374.2" r="11.4"/>
<circle cx="1351.7" cy="460.6" r="11.4"/>
<circle cx="1383.4" cy="554.2" r="11.4"/>
<circle cx="1411.6" cy="642.4" r="11.4"/>
<circle cx="1437.0" cy="721.5" r="11.4"/>
<circle cx="1481.3" cy="853.5" r="11.4"/>
<circle cx="1500.8" cy="908.0" r="11.4"/>
<circle cx="1519.0" cy="957.4" r="11.4"/>
<circle cx="1551.9" cy="1042.8" r="11.4"/>
<circle cx="1566.8" cy="1080.5" r="11.4"/>
<circle cx="1581.0" cy="1114.9" r="11.4"/>
<circle cx="1594.4" cy="1145.9" r="11.4"/>
<circle cx="1619.2" cy="1199.3" r="11.4"/>
<circle cx="1630.8" cy="1222.1" r="11.4"/>
<circle cx="1641.9" cy="1242.2" r="11.4"/>
<circle cx="1662.7" cy="1276.1" r="11.4"/>
<circle cx="1672.5" cy="1290.0" r="11.4"/>
<circle cx="1681.9" cy="1301.8" r="11.4"/>
<circle cx="1691.0" cy="1312.7" r="11.4"/>
<circle cx="1708.3" cy="1329.4" r="11.4"/>
<circle cx="1716.5" cy="1335.9" r="11.4"/>
<circle cx="1724.5" cy="1341.5" r="11.4"/>
<circle cx="1732.2" cy="1346.3" r="11.4"/>
<circle cx="1739.7" cy="1350.5" r="11.4"/>
<circle cx="1747.0" cy="1354.2" r="11.4"/>
<circle cx="1754.1" cy="1357.3" r="11.4"/>
<circle cx="1761.0" cy="1360.1" r="11.4"/>
<circle cx="1767.7" cy="1362.4" r="11.4"/>
<circle cx="1774.2" cy="1364.5" r="11.4"/>
<circle cx="1780.6" cy="1366.2" r="11.4"/>
<circle cx="1786.8" cy="1367.8" r="11.4"/>
<circle cx="1792.9" cy="1369.1" r="11.4"/>
<circle cx="1798.8" cy="1370.3" r="11.4"/>
<circle cx="1804.6" cy="1371.3" r="11.4"/>
<circle cx="1810.3" cy="1372.1" r="11.4"/>
<circle cx="1815.8" cy="1372.9" r="11.4"/>
<circle cx="1821.2" cy="1373.5" r="11.4"/>
<circle cx="1826.5" cy="1374.1" r="11.4"/>
<circle cx="1831.8" cy="1374.6" r="11.4"/>
<circle cx="1836.9" cy="1375.0" r="11.4"/>
<circle cx="1841.9" cy="1375.3" r="11.4"/>
<circle cx="1846.8" cy="1375.7" r="11.4"/>
<circle cx="1851.6" cy="1375.9" r="11.4"/>
<circle cx="1856.3" cy="1376.2" r="11.4"/>
<circle cx="1860.9" cy="1376.4" r="11.4"/>
<circle cx="1865.5" cy="1376.6" r="11.4"/>
<circle cx="1870.0" cy="1376.7" r="11.4"/>
<circle cx="1874.4" cy="1376.8" r="11.4"/>
<circle cx="1878.7" cy="1377.0" r="11.4"/>
<circle cx="1882.9" cy="1377.1" r="11.4"/>
<circle cx="1887.1" cy="1377.1" r="11.4"/>
<circle cx="1891.2" cy="1377.2" r="11.4"/>
<circle cx="1895.3" cy="1377.3" r="11.4"/>
<circle cx="1899.3" cy="1377.3" r="11.4"/>
<circle cx="1903.2" cy="1377.4" r="11.4"/>
<circle cx="1907.1" cy="1377.4" r="11.4"/>
<circle cx="1910.9" cy="1377.5" r="11.4"/>
<circle cx="1914.6" cy="1377.5" r="11.4"/>
<circle cx="1918.3" cy="1377.5" r="11.4"/>
<circle cx="1922.0" cy="1377.5" r="11.4"/>
<circle cx="1925.6" cy="1377.6" r="11.4"/>
<circle cx="1929.1" cy="1377.6" r="11.4"/>
<circle cx="1932.6" cy="1377.6" r="11.4"/>
<circle cx="1936.0" cy="1377.6" r="11.4"/>
<circle cx="1939.4" cy="1377.6" r="11.4"/>
<circle cx="1942.8" cy="1377.6" r="11.4"/>
<circle cx="1946.1" cy="1377.6" r="11.4"/>
<circle cx="1949.4" cy="1377.7" r="11.4"/>
<circle cx="1952.6" cy="1377.7" r="11.4"/>
<circle cx="1955.8" cy="1377.7" r="11.4"/>
<circle cx="1959.0" cy="1377.7" r="11.4"/>
<circle cx="1962.1" cy="1377.7" r="11.4"/>
<circle cx="1965.1" cy="1377.7" r="11.4"/>
<circle cx="1968.2" cy="1377.7" r="11.4"/>
<circle cx="1971.2" cy="1377.7" r="11.4"/>
<circle cx="1974.2" cy="1377.7" r="11.4"/>
<circle cx="1977.1" cy="1377.7" r="11.4"/>
<circle cx="1980.0" cy="1377.7" r="11.4"/>
<circle cx="1982.9" cy="1377.7" r="11.4"/>
<circle cx="1985.7" cy="1377.7" r="11.4"/>
<circle cx="1988.5" cy="1377.7" r="11.4"/>
<circle cx="1991.3" cy="1377.7" r="11.4"/>
<circle cx="1994.0" cy="1377.7" r="11.4"/>
<circle cx="1996.7" cy="1377.7" r="11.4"/>
<circle cx="1999.4" cy="1377.7" r="11.4"/>
<circle cx="2002.1" cy="1377.7" r="11.4"/>
<circle cx="2004.7" cy="1377.7" r="11.4"/>
<circle cx="2007.3" cy="1377.7" r="11.4"/>
<circle cx="2009.9" cy="1377.7" r="11.4"/>
<circle cx="2012.4" cy="1377.7" r="11.4"/>
<circle cx="2015.0" cy="1377.7" r="11.4"/>
<circle cx="2017.5" cy="1377.7" r="11.4"/>
<circle cx="2019.9" cy="1377.7" r="11.4"/>
<circle cx="2022.4" cy="1377.7" r="11.4"/>
<circle cx="2024.8" cy="1377.7" r="11.4"/>
<circle cx="2027.2" cy="1377.7" r="11.4"/>
<circle cx="2029.6" cy="1377.7" r="11.4"/>
<circle cx="2032.0" cy="1377.7" r="11.4"/>
<circle cx="2034.3" cy="1377.7" r="11.4"/>
<circle cx="2036.6" cy="1377.7" r="11.4"/>
<circle cx="2038.9" cy="1377.7" r="11.4"/>
<circle cx="2041.2" cy="1377.7" r="11.4"/>
<circle cx="2043.5" cy="1377.7" r="11.4"/>
<circle cx="2045.7" cy="1377.7" r="11.4"/>
<circle cx="2047.9" cy="1377.7" r="11.4"/>
<circle cx="2050.1" cy="1377.7" r="11.4"/>
<circle cx="2052.3" cy="1377.7" r="11.4"/>
<circle cx="2054.5" cy="1377.7" r="11.4"/>
<circle cx="2056.6" cy="1377.7" r="11.4"/>
<circle cx="2058.8" cy="1377.7" r="11.4"/>
</g>
<g fill="#ff0000">
<path d="M233.0,56.1L247.0,41.9L261.0,56.1L247.0,70.3Z"/>
<path d="M440.1,58.5L454.1,44.3L468.1,58.5L454.1,72.7Z"/>
<path d="M647.2,86.1L661.2,71.9L675.2,86.1L661.2,100.3Z"/>
<path d="M854.2,179.2L868.2,165.0L882.2,179.2L868.2,193.4Z"/>
<path d="M1061.3,328.9L1075.3,314.7L1089.3,328.9L1075.3,343.1Z"/>
<path d="M1208.6,507.5L1222.6,493.3L1236.6,507.5L1222.6,521.7Z"/>
<path d="M1301.5,673.0L1315.5,658.8L1329.5,673.0L1315.5,687.2Z"/>
<path d="M1369.4,821.3L1383.4,807.1L1397.4,821.3L1383.4,835.5Z"/>
<path d="M1423.0,952.3L1437.0,938.1L1451.0,952.3L1437.0,966.5Z"/>
<path d="M1467.3,1052.7L1481.3,1038.5L1495.3,1052.7L1481.3,1066.9Z"/>
<path d="M1505.0,1124.4L1519.0,1110.2L1533.0,1124.4L1519.0,1138.6Z"/>
<path d="M1537.9,1177.8L1551.9,1163.6L1565.9,1177.8L1551.9,1192.0Z"/>
<path d="M1567.0,1221.4L1581.0,1207.2L1595.0,1221.4L1581.0,1235.6Z"/>
<path d="M1593.1,1257.3L1607.1,1243.1L1621.1,1257.3L1607.1,1271.5Z"/>
<path d="M1616.8,1286.7L1630.8,1272.5L1644.8,1286.7L1630.8,1300.9Z"/>
<path d="M1638.5,1309.7L1652.5,1295.5L1666.5,1309.7L1652.5,1323.9Z"/>
<path d="M1658.5,1327.3L1672.5,1313.1L1686.5,1327.3L1672.5,1341.5Z"/>
<path d="M1677.0,1340.3L1691.0,1326.1L1705.0,1340.3L1691.0,1354.5Z"/>
<path d="M1694.3,1350.4L1708.3,1336.2L1722.3,1350.4L1708.3,1364.6Z"/>
<path d="M1710.5,1357.1L1724.5,1342.9L1738.5,1357.1L1724.5,1371.3Z"/>
<path d="M1725.7,1363.0L1739.7,1348.8L1753.7,1363.0L1739.7,1377.2Z"/>
<path d="M1740.1,1367.2L1754.1,1353.0L1768.1,1367.2L1754.1,1381.4Z"/>
<path d="M1753.7,1370.0L1767.7,1355.8L1781.7,1370.0L1767.7,1384.2Z"/>
<path d="M1766.6,1372.1L1780.6,1357.9L1794.6,1372.1L1780.6,1386.3Z"/>
<path d="M1778.9,1373.6L1792.9,1359.4L1806.9,1373.6L1792.9,1387.8Z"/>
<path d="M1790.6,1374.8L1804.6,1360.6L1818.6,1374.8L1804.6,1389.0Z"/>
<path d="M1801.8,1375.7L1815.8,1361.5L1829.8,1375.7L1815.8,1389.9Z"/>
<path d="M1812.5,1376.3L1826.5,1362.1L1840.5,1376.3L1826.5,1390.5Z"/>
<path d="M1822.9,1376.8L1836.9,1362.6L1850.9,1376.8L1836.9,1391.0Z"/>
<path d="M1832.8,1377.2L1846.8,1363.0L1860.8,1377.2L1846.8,1391.4Z"/>
<path d="M1842.3,1377.5L1856.3,1363.3L1870.3,1377.5L1856.3,1391.7Z"/>
<path d="M1851.5,1377.7L1865.5,1363.5L1879.5,1377.7L1865.5,1391.9Z"/>
<path d="M1860.4,1377.8L1874.4,1363.6L1888.4,1377.8L1874.4,1392.0Z"/>
<path d="M1868.9,1377.9L1882.9,1363.7L1896.9,1377.9L1882.9,1392.1Z"/>
<path d="M1877.2,1378.0L1891.2,1363.8L1905.2,1378.0L1891.2,1392.2Z"/>
<path d="M1885.3,1378.1L1899.3,1363.9L1913.3,1378.1L1899.3,1392.3Z"/>
<path d="M1893.1,1378.2L1907.1,1364.0L1921.1,1378.2L1907.1,1392.4Z"/>
<path d="M1900.6,1378.2L1914.6,1364.0L1928.6,1378.2L1914.6,1392.4Z"/>
<path d="M1908.0,1378.2L1922.0,1364.0L1936.0,1378.2L1922.0,1392.4Z"/>
<path d="M1915.1,1378.2L1929.1,1364.0L1943.1,1378.2L1929.1,1392.4Z"/>
<path d="M1922.0,1378.3L1936.0,1364.1L1950.0,1378.3L1936.0,1392.5Z"/>
<path d="M1928.8,1378.3L1942.8,1364.1L1956.8,1378.3L1942.8,1392.5Z"/>
<path d="M1935.4,1378.3L1949.4,1364.1L1963.4,1378.3L1949.4,1392.5Z"/>
<path d="M1941.8,1378.3L1955.8,1364.1L1969.8,1378.3L1955.8,1392.5Z"/>
<path d="M1948.1,1378.3L1962.1,1364.1L1976.1,1378.3L1962.1,1392.5Z"/>
<path d="M1954.2,1378.3L1968.2,1364.1L1982.2,1378.3L1968.2,1392.5Z"/>
<path d="M1960.2,1378.3L1974.2,1364.1L1988.2,1378.3L1974.2,1392.5Z"/>
<path d="M1966.0,1378.3L1980.0,1364.1L1994.0,1378.3L1980.0,1392.5Z"/>
<path d="M1971.7,1378.3L1985.7,1364.1L1999.7,1378.3L1985.7,1392.5Z"/>
<path d="M1977.3,1378.3L1991.3,1364.1L2005.3,1378.3L1991.3,1392.5Z"/>
<path d="M1982.7,1378.3L1996.7,1364.1L2010.7,1378.3L1996.7,1392.5Z"/>
<path d="M1988.1,1378.3L2002.1,1364.1L2016.1,1378.3L2002.1,1392.5Z"/>
<path d="M1993.3,1378.3L2007.3,1364.1L2021.3,1378.3L2007.3,1392.5Z"/>
<path d="M1998.4,1378.3L2012.4,1364.1L2026.4,1378.3L2012.4,1392.5Z"/>
<path d="M2003.5,1378.3L2017.5,1364.1L2031.5,1378.3L2017.5,1392.5Z"/>
<path d="M2008.4,1378.3L2022.4,1364.1L2036.4,1378.3L2022.4,1392.5Z"/>
<path d="M2013.2,1378.3L2027.2,1364.1L2041.2,1378.3L2027.2,1392.5Z"/>
<path d="M2018.0,1378.3L2032.0,1364.1L2046.0,1378.3L2032.0,1392.5Z"/>
<path d="M2022.6,1378.3L2036.6,1364.1L2050.6,1378.3L2036.6,1392.5Z"/>
<path d="M2027.2,1378.3L2041.2,1364.1L2055.2,1378.3L2041.2,1392.5Z"/>
<path d="M2031.7,1378.3L2045.7,1364.1L2059.7,1378.3L2045.7,1392.5Z"/>
<path d="M2036.1,1378.3L2050.1,1364.1L2064.1,1378.3L2050.1,1392.5Z"/>
<path d="M2040.5,1378.3L2054.5,1364.1L2068.5,1378.3L2054.5,1392.5Z"/>
<path d="M2044.8,1378.3L2058.8,1364.1L2072.8,1378.3L2058.8,1392.5Z"/>
</g>
<rect x="439" y="710" width="151" height="1.15" fill="#0000ff"/>
<text transform="translate(604.50 733.60) scale(1.0 1.02)" text-anchor="start"><tspan font-style="italic">z<tspan dx="-3.6">=2.5</tspan></tspan><tspan dx="-1.4">m</tspan></text>
<rect x="439" y="794" width="151" height="1.15" fill="#00ff00"/>
<text transform="translate(604.50 817.70) scale(1.0 1.02)" text-anchor="start"><tspan font-style="italic">z<tspan dx="-3.6">=5</tspan></tspan><tspan dx="-1.4">m</tspan></text>
<rect x="439" y="878" width="151" height="2" fill="#ff0000"/>
<text transform="translate(604.50 901.80) scale(1.0 1.02)" text-anchor="start"><tspan font-style="italic">z<tspan dx="-3.6">=7.5</tspan></tspan><tspan dx="-1.4">m</tspan></text>
<g fill="#0000ff" shape-rendering="crispEdges"><rect x="504" y="953" width="20" height="19"/></g>
<g fill="#00ff00"><circle cx="514.7" cy="1047.6" r="11.4"/></g>
<g fill="#ff0000"><path d="M500.2,1131.5L514.2,1117.3L528.2,1131.5L514.2,1145.7Z"/></g>
<text transform="translate(605.00 985.70) scale(1.0 1.02)" text-anchor="start">FEM : <tspan font-style="italic">z<tspan dx="-3.6">=2.5</tspan></tspan><tspan dx="-1.4">m</tspan></text>
<text transform="translate(605.00 1069.80) scale(1.0 1.02)" text-anchor="start">FEM : <tspan font-style="italic">z<tspan dx="-3.6">=5</tspan></tspan><tspan dx="-1.4">m</tspan></text>
<text transform="translate(605.00 1153.90) scale(1.0 1.02)" text-anchor="start">FEM : <tspan font-style="italic">z<tspan dx="-3.6">=7.5</tspan></tspan><tspan dx="-1.4">m</tspan></text>
</svg>
</body></html>
